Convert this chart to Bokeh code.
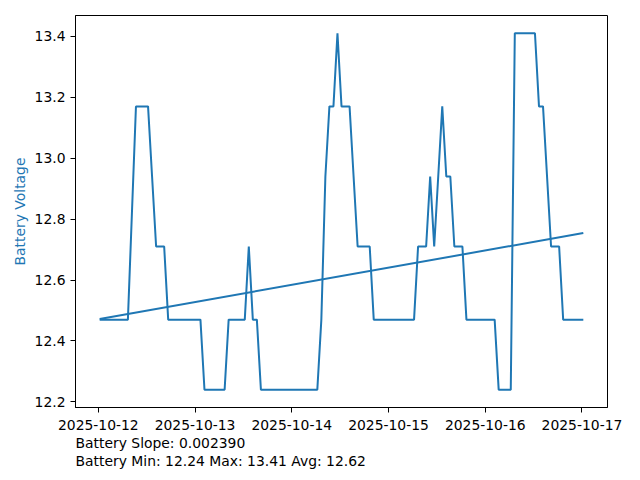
from datetime import datetime, timedelta
import numpy as np
from bokeh.plotting import figure
from bokeh.models import Title, DatetimeTickFormatter, FixedTicker, PrintfTickFormatter
from bokeh.embed import file_html
from bokeh.resources import INLINE

# ---- data ----
start_time = datetime(2025, 10, 12, 0, 20)
# hourly readings; the reading of hour 8 is missing
hour_offsets = [h for h in range(121) if h != 8]
battery_voltage = [
    12.47, 12.47, 12.47, 12.47, 12.47, 12.47, 12.47, 12.47,
    13.17, 13.17, 13.17, 13.17, 12.94, 12.71, 12.71, 12.71,
    12.47, 12.47, 12.47, 12.47, 12.47, 12.47, 12.47, 12.47, 12.47,
    12.24, 12.24, 12.24, 12.24, 12.24, 12.24,
    12.47, 12.47, 12.47, 12.47, 12.47, 12.71, 12.47, 12.47,
    12.24, 12.24, 12.24, 12.24, 12.24, 12.24, 12.24, 12.24, 12.24, 12.24,
    12.24, 12.24, 12.24, 12.24, 12.24,
    12.47, 12.94, 13.17, 13.17, 13.41, 13.17, 13.17, 13.17, 12.94,
    12.71, 12.71, 12.71, 12.71,
    12.47, 12.47, 12.47, 12.47, 12.47, 12.47, 12.47, 12.47, 12.47, 12.47, 12.47,
    12.71, 12.71, 12.71, 12.94, 12.71, 12.94, 13.17, 12.94, 12.94,
    12.71, 12.71, 12.71,
    12.47, 12.47, 12.47, 12.47, 12.47, 12.47, 12.47, 12.47,
    12.24, 12.24, 12.24, 12.24,
    13.41, 13.41, 13.41, 13.41, 13.41, 13.41, 13.17, 13.17, 12.94,
    12.71, 12.71, 12.71,
    12.47, 12.47, 12.47, 12.47, 12.47, 12.47,
]
y_ticks = [12.2, 12.4, 12.6, 12.8, 13.0, 13.2, 13.4]
x_tick_dates = ["2025-10-12", "2025-10-13", "2025-10-14", "2025-10-15", "2025-10-16", "2025-10-17"]
y_label = "Battery Voltage"
slope_text = "Battery Slope: 0.002390"
stats_text = "Battery Min: 12.24 Max: 13.41 Avg: 12.62"

# ---- derived ----
times = [start_time + timedelta(hours=h) for h in hour_offsets]
slope, intercept = np.polyfit(hour_offsets, battery_voltage, 1)
trend_x = [times[0], times[-1]]
trend_y = [intercept + slope * hour_offsets[0], intercept + slope * hour_offsets[-1]]
epoch = datetime(1970, 1, 1)
x_tick_ms = [(datetime.strptime(d, "%Y-%m-%d") - epoch).total_seconds() * 1000 for d in x_tick_dates]

FONT = "DejaVu Sans"
FS = "13.9px"
BLUE = "#1f77b4"

p = figure(width=632, height=472, x_axis_type="datetime",
           output_backend="svg", toolbar_location=None,
           min_border_left=75, min_border_right=25, min_border_top=15, min_border_bottom=65)

p.line(times, battery_voltage, line_color=BLUE, line_width=2)
p.line(trend_x, trend_y, line_color=BLUE, line_width=2)

p.xgrid.visible = False
p.ygrid.visible = False
p.outline_line_color = "black"
p.outline_line_width = 1
p.outline_line_alpha = 1
p.background_fill_color = "white"
p.border_fill_color = "white"

p.xaxis.ticker = FixedTicker(ticks=x_tick_ms)
fmt = "%Y-%m-%d"
p.xaxis.formatter = DatetimeTickFormatter(milliseconds=fmt, seconds=fmt, minsec=fmt, minutes=fmt,
                                          hourmin=fmt, hours=fmt, days=fmt, months=fmt, years=fmt)
p.yaxis.ticker = FixedTicker(ticks=y_ticks)
p.yaxis.formatter = PrintfTickFormatter(format="%.1f")

for ax in (p.xaxis[0], p.yaxis[0]):
    ax.axis_line_color = "black"
    ax.major_tick_line_color = "black"
    ax.minor_tick_line_color = None
    ax.major_tick_out = 5
    ax.major_tick_in = 0
    ax.major_label_text_font = FONT
    ax.major_label_text_font_size = FS
    ax.major_label_text_color = "black"
    ax.major_label_standoff = 5
p.xaxis.major_label_standoff = 7

p.yaxis.axis_label = y_label
p.yaxis.axis_label_text_color = BLUE
p.yaxis.axis_label_text_font = FONT
p.yaxis.axis_label_text_font_size = FS
p.yaxis.axis_label_text_font_style = "normal"
p.yaxis.axis_label_standoff = 4

for txt in (slope_text, stats_text):
    t = Title(text=txt, align="left", text_font=FONT, text_font_size=FS,
              text_font_style="normal", text_color="black", standoff=0, offset=0)
    p.add_layout(t, "below")

open("out.html", "w").write(file_html(p, INLINE))
